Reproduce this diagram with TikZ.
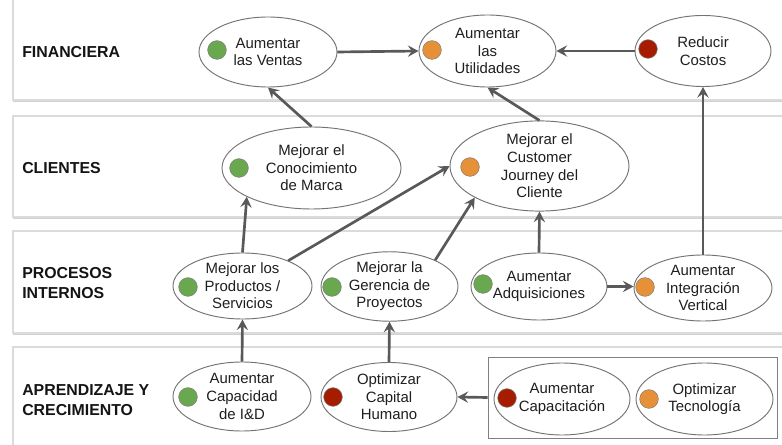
\documentclass[tikz,border=0pt]{standalone}
\usepackage{fontspec}
\setmainfont{Liberation Sans}
\usetikzlibrary{arrows.meta,shadows,shapes.geometric}
\definecolor{cgreen}{HTML}{6AA84F}
\definecolor{corange}{HTML}{E69138}
\definecolor{cred}{HTML}{A61C00}
\definecolor{arr}{HTML}{595959}
\def\p{0.75pt}
\begin{document}
\begin{tikzpicture}[x=0.75pt,y=-0.75pt,
 goal/.style={ellipse, draw=black!55, line width=0.7pt, fill=white, inner sep=0pt,
   align=center, font=\fontsize{11.2pt}{13.2pt}\selectfont, text=black!88},
 dotn/.style={circle, draw=black!50, line width=0.4pt, minimum size=14pt, inner sep=0pt},
 lane/.style={draw=black!14, line width=0.8pt, fill=white,
   drop shadow={shadow xshift=0pt, shadow yshift=-1.6pt, opacity=0.18, fill=black}},
 lab/.style={anchor=west, align=left, inner sep=0pt, font=\bfseries\fontsize{11.9pt}{14.5pt}\selectfont, text=black!92},
 link/.style={draw=arr, line width=2pt, -{Stealth[length=8pt,width=8.5pt,inset=3pt]}},
 grpbox/.style={draw=black!50, line width=0.6pt, inner sep=0pt}
]
\useasboundingbox (0,0) rectangle (782,445);
\clip (0,0) rectangle (782,445);
\fill[white] (0,0) rectangle (782,445);

% lanes
\draw[lane] (13,-10) rectangle (800,100);
\draw[lane] (13,116) rectangle (800,217);
\draw[lane] (13,231) rectangle (800,333);
\draw[lane] (13,347) rectangle (800,470);

% lane labels
\node[lab] (l1) at (22,52) {FINANCIERA};
\node[lab] (l2) at (22,168) {CLIENTES};
\node[lab] (l3) at (22,283) {PROCESOS\\INTERNOS};
\node[lab] (l4) at (22,400) {APRENDIZAJE Y\\CRECIMIENTO};

% group box
\node[grpbox, minimum width=289*\p, minimum height=81*\p] (grp) at (632.5,397.5) {};

% objectives
\node[goal, minimum width=138*\p, minimum height=70*\p] (ventas) at (268,52) {Aumentar\\las Ventas};
\node[goal, minimum width=137*\p, minimum height=72*\p] (util) at (487.5,51) {Aumentar\\las\\Utilidades};
\node[goal, minimum width=136*\p, minimum height=71*\p] (reducir) at (703,51) {Reducir\\Costos};
\node[goal, minimum width=179*\p, minimum height=82*\p] (conoc) at (311.5,168) {Mejorar el\\Conocimiento\\de Marca};
\node[goal, minimum width=179*\p, minimum height=86*\p] (journey) at (539.5,166) {Mejorar el\\Customer\\Journey del\\Cliente};
\node[goal, minimum width=139*\p, minimum height=66*\p] (prod) at (242.5,286) {Mejorar los\\Productos /\\Servicios};
\node[goal, minimum width=137*\p, minimum height=67*\p] (geren) at (389.5,286.5) {Mejorar la\\Gerencia de\\Proyectos};
\node[goal, minimum width=136*\p, minimum height=67*\p] (adq) at (539,286.5) {Aumentar\\Adquisiciones};
\node[goal, minimum width=138*\p, minimum height=66*\p] (integ) at (703,288) {Aumentar\\Integración\\Vertical};
\node[goal, minimum width=138*\p, minimum height=69*\p] (iyd) at (242,396.5) {Aumentar\\Capacidad\\de I\&D};
\node[goal, minimum width=136*\p, minimum height=69*\p] (capital) at (389,397) {Optimizar\\Capital\\Humano};
\node[goal, minimum width=136*\p, minimum height=72*\p] (capac) at (562,399) {Aumentar\\Capacitación};
\node[goal, minimum width=137*\p, minimum height=72*\p] (tecno) at (704.5,399) {Optimizar\\Tecnología};

% status dots
\node[dotn, fill=cgreen] (d1) at (217,50) {};
\node[dotn, fill=corange] (d2) at (432,50) {};
\node[dotn, fill=cred] (d3) at (648,49) {};
\node[dotn, fill=cgreen] (d4) at (239,168) {};
\node[dotn, fill=corange] (d5) at (470,167) {};
\node[dotn, fill=cgreen] (d6) at (188,287) {};
\node[dotn, fill=cgreen] (d7) at (332,287) {};
\node[dotn, fill=cgreen] (d8) at (483,284) {};
\node[dotn, fill=corange] (d9) at (645,287) {};
\node[dotn, fill=cgreen] (d10) at (188,397) {};
\node[dotn, fill=cred] (d11) at (333,397) {};
\node[dotn, fill=cred] (d12) at (507,398) {};
\node[dotn, fill=corange] (d13) at (649,399) {};

% connectors
\draw[link] (ventas.east) -- (util.west);
\draw[link] (reducir.west) -- (util.east);
\draw[link] (conoc.north) -- (ventas.south);
\draw[link] (journey.north) -- (util.south);
\draw[link] (integ.north) -- (reducir.south);
\draw[link] (prod.north) -- (conoc.204);
\draw[link] (prod.29) -- (journey.west);
\draw[link] (geren.30) -- (journey.206);
\draw[link] (adq.north) -- (journey.south);
\draw[link] (adq.east) -- (adq.east -| integ.west);
\draw[link] (iyd.north) -- (prod.south);
\draw[link] (capital.north) -- (geren.south);
\draw[link] (grp.west) -- (capital.east);
\end{tikzpicture}
\end{document}
